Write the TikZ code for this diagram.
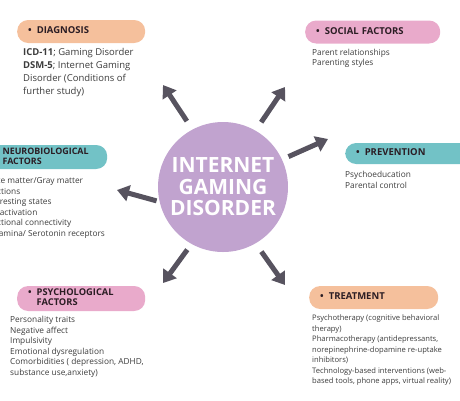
\documentclass[tikz,border=0pt]{standalone}
\usepackage{fontspec}
\setmainfont{Open Sans}
\usetikzlibrary{positioning, arrows.meta}

\definecolor{peach}{HTML}{F5C09C}
\definecolor{rosy}{HTML}{E9AACB}
\definecolor{tealish}{HTML}{72C2C6}
\definecolor{lilac}{HTML}{C1A3CF}
\definecolor{arrowgray}{HTML}{57535F}
\definecolor{inkdark}{HTML}{2B1D24}
\definecolor{bodygray}{HTML}{3C3C3C}

% bullet title, second line hangs under the first word
\newcommand{\pilltitle}[1]{\begin{tabular}{@{}l@{\hspace{5pt}}l@{}}\textbullet & #1\end{tabular}}

\begin{document}
\begin{tikzpicture}[
x=1pt, y=-1pt,
pill/.style={
	rectangle,
	rounded corners=11pt,
	minimum height=23pt,
	inner xsep=11pt,
	inner ysep=2pt,
	anchor=west,
	align=left,
	text=inkdark,
	font=\bfseries\fontsize{9.5}{10.5}\selectfont
},
body/.style={
	anchor=north west,
	align=left,
	inner sep=0pt,
	text=bodygray
},
line/.style={
	draw=arrowgray, line width=5pt, -{Triangle[width=16pt,length=12pt]}
}
]
\useasboundingbox (0,0) rectangle (460,400);

% Centre
\node[circle, fill=lilac, minimum size=130pt, inner sep=0pt, align=center, text=white,
	font=\bfseries\fontsize{21}{21.5}\selectfont] (igd) at (223,187) {INTERNET\\GAMING\\DISORDER};

% Titles
\node[pill, fill=peach, text width=106pt] (diag) at (17,31.5) {\pilltitle{DIAGNOSIS}};
\node[pill, fill=rosy, text width=113pt] (social) at (305,32) {\pilltitle{SOCIAL FACTORS}};
\node[pill, fill=tealish, text width=102pt, minimum height=24pt,
	font=\bfseries\fontsize{8.9}{10}\selectfont] (neuro) at (-17,157) {\pilltitle{NEUROBIOLOGICAL\\ & FACTORS}};
\node[pill, fill=tealish, text width=112pt, minimum height=21pt] (prev) at (345,153.5) {\pilltitle{PREVENTION}};
\node[pill, fill=rosy, text width=106pt, font=\bfseries\fontsize{9.3}{10.5}\selectfont] (psych) at (17,298.5) {\pilltitle{PSYCHOLOGICAL\\ & FACTORS}};
\node[pill, fill=peach, text width=107pt] (treat) at (309,297.5) {\pilltitle{TREATMENT}};

% Texts
\node[body, font=\fontsize{9.5}{13}\selectfont] (diagtext) at (23,48) {\textbf{ICD-11}; Gaming Disorder\\\textbf{DSM-5}; Internet Gaming\\Disorder (Conditions of\\further study)};
\node[body, font=\fontsize{8.3}{10.5}\selectfont] (socialtext) at (312,48.5) {Parent relationships\\Parenting styles};
\node[body, font=\fontsize{8.3}{10.5}\selectfont] (neurotext) at (-17.5,177) {White matter/Gray matter\\Functions\\Cue resting states\\Cue activation\\Functional connectivity\\Dopamina/ Serotonin receptors};
\node[body, font=\fontsize{8.3}{11}\selectfont] (prevtext) at (345,171) {Psychoeducation\\Parental control};
\node[body, font=\fontsize{8.3}{10.6}\selectfont] (psychtext) at (10,316) {Personality traits\\Negative affect\\Impulsivity\\Emotional dysregulation\\Comorbidities ( depression, ADHD,\\substance use,anxiety)};
\node[body, font=\fontsize{7.6}{10.5}\selectfont] (treattext) at (312,315) {Psychotherapy (cognitive behavioral\\therapy)\\Pharmacotherapy (antidepressants,\\norepinephrine-dopamine re-uptake\\inhibitors)\\Technology-based interventions (web-\\based tools, phone apps, virtual reality)};

% Arrow tips
\coordinate (diagtip) at (163,85);
\coordinate (socialtip) at (285,87);
\coordinate (prevtip) at (328,139);
\coordinate (neurotip) at (117,190);
\coordinate (psychtip) at (163,283);
\coordinate (treattip) at (285,285);

% Lines
\draw[line, shorten <=10pt] (igd.118) -- (diagtip);
\draw[line, shorten <=10pt] (igd.60) -- (socialtip);
\draw[line, shorten <=7pt] (igd.25) -- (prevtip);
\draw[line, shorten <=3pt] (igd.193) -- (neurotip);
\draw[line, shorten <=7pt] (igd.241) -- (psychtip);
\draw[line, shorten <=10pt] (igd.300) -- (treattip);

\end{tikzpicture}
\end{document}
